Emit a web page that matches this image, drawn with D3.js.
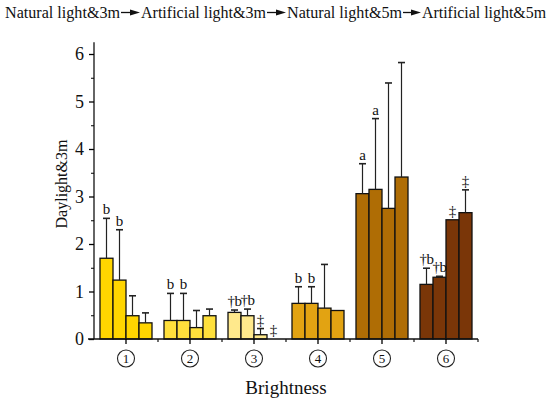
<!DOCTYPE html>
<html>
<head>
<meta charset="utf-8">
<script src="https://d3js.org/d3.v7.min.js"></script>
<style>
  body { margin: 0; background: #fff; }
</style>
</head>
<body>
<svg width="550" height="405"></svg>
<script>
// data
const groups = ['1', '2', '3', '4', '5', '6'];
const series = ['s1', 's2', 's3', 's4'];
const means = [
  [1.70, 1.24, 0.49, 0.34],
  [0.39, 0.39, 0.24, 0.49],
  [0.56, 0.49, 0.09, 0.00],
  [0.75, 0.75, 0.65, 0.60],
  [3.06, 3.15, 2.75, 3.41],
  [1.15, 1.30, 2.51, 2.66]
];
const errors = [
  [0.84, 1.06, 0.42, 0.21],
  [0.57, 0.57, 0.36, 0.14],
  [0.05, 0.14, 0.13, 0.00],
  [0.35, 0.35, 0.92, 0.00],
  [0.63, 1.49, 2.64, 2.41],
  [0.34, 0.02, 0.00, 0.48]
];
const marks = [
  ['b', 'b', '', ''],
  ['b', 'b', '', ''],
  ['†b', '†b', '‡', '‡'],
  ['b', 'b', '', ''],
  ['a', 'a', '', ''],
  ['†b', '†b', '‡', '‡']
];
const groupColors = ['#FFD500', '#FFE03C', '#FFE98C', '#E2A312', '#AF6D05', '#7A3608'];
const yTicks = [0, 1, 2, 3, 4, 5, 6];
const steps = ['Natural light&3m', 'Artificial light&3m', 'Natural light&5m', 'Artificial light&5m'];

const SERIF = '"Liberation Serif", "Times New Roman", "DejaVu Serif", serif';

const svg = d3.select('svg').style('font-family', SERIF);

const x0 = d3.scaleBand().domain(groups).range([94, 478])
  .paddingInner(0.1875).paddingOuter(0.09375);
const x1 = d3.scaleBand().domain(series).range([0, x0.bandwidth()]);
const y = d3.scaleLinear().domain([0, 6]).range([339, 54]);

// flatten for drawing
const rows = [];
groups.forEach((g, i) => series.forEach((s, j) => {
  rows.push({g: g, gi: i, s: s, v: means[i][j], e: errors[i][j], m: marks[i][j]});
}));

// bars
svg.append('g').selectAll('rect')
  .data(rows)
  .join('rect')
  .attr('x', d => x0(d.g) + x1(d.s))
  .attr('y', d => y(d.v))
  .attr('width', x1.bandwidth())
  .attr('height', d => y(0) - y(d.v))
  .attr('fill', d => groupColors[d.gi])
  .attr('stroke', '#111')
  .attr('stroke-width', 1.3);

// error bars (upper only)
const eb = svg.append('g').attr('stroke', '#222').attr('stroke-width', 1.2);
rows.filter(d => d.e > 0).forEach(d => {
  const bx = x0(d.g) + x1(d.s) + x1.bandwidth() / 2;
  eb.append('line').attr('x1', bx).attr('x2', bx).attr('y1', y(d.v)).attr('y2', y(d.v + d.e));
  eb.append('line').attr('x1', bx - 3.5).attr('x2', bx + 3.5).attr('y1', y(d.v + d.e)).attr('y2', y(d.v + d.e))
    .attr('stroke-width', 1.6);
});

// significance letters
svg.append('g').selectAll('text')
  .data(rows.filter(d => d.m))
  .join('text')
  .attr('x', d => x0(d.g) + x1(d.s) + x1.bandwidth() / 2)
  .attr('y', d => y(d.v + d.e) - 4)
  .attr('text-anchor', 'middle')
  .attr('font-size', 15)
  .attr('letter-spacing', d => d.m.length > 1 ? -0.6 : 0)
  .style('font-family', SERIF)
  .attr('fill', '#111')
  .text(d => d.m);

// y axis
const yAxis = svg.append('g').attr('transform', 'translate(94,0)')
  .call(d3.axisLeft(y).tickValues(yTicks).tickSize(5).tickPadding(5).tickFormat(d3.format('d')));
yAxis.attr('font-family', null);
yAxis.select('.domain').attr('d', 'M0,' + y(6.25) + 'V' + y(0)).attr('stroke', '#111').attr('stroke-width', 1.3);
yAxis.selectAll('.tick text').attr('font-size', 18).style('font-family', SERIF).attr('fill', '#111');
yAxis.selectAll('.tick line').attr('stroke-width', 1.3);
svg.append('g').attr('transform', 'translate(94,0)')
  .call(d3.axisLeft(y).tickValues(d3.range(0.5, 6.5, 1)).tickSize(3).tickFormat(''))
  .call(g => g.select('.domain').remove());

// x axis
const xAxis = svg.append('g').attr('transform', 'translate(0,' + y(0) + ')')
  .call(d3.axisBottom(x0).tickSize(5).tickSizeOuter(0).tickFormat(''));
xAxis.select('.domain').attr('d', 'M88,0H478').attr('stroke', '#111').attr('stroke-width', 1.3);
xAxis.selectAll('.tick line').attr('stroke-width', 1.3);
const bounds = groups.map(g => x0(g) + x0.bandwidth() + x0.step() * x0.paddingInner() / 2);
xAxis.selectAll('line.minor').data(bounds).join('line')
  .attr('class', 'minor')
  .attr('x1', d => d).attr('x2', d => d).attr('y1', 0).attr('y2', 3)
  .attr('stroke', '#111').attr('stroke-width', 1.2);

const lab = svg.append('g').selectAll('g')
  .data(groups)
  .join('g')
  .attr('transform', d => 'translate(' + (x0(d) + x0.bandwidth() / 2) + ',358.5)');
lab.append('circle').attr('r', 8.5).attr('fill', 'none').attr('stroke', '#222').attr('stroke-width', 1.1);
lab.append('text').attr('text-anchor', 'middle').attr('dy', 4.6).attr('font-size', 13)
  .style('font-family', SERIF).attr('fill', '#111').text(d => d);

// axis titles
svg.append('text')
  .attr('x', 286).attr('y', 394)
  .attr('text-anchor', 'middle')
  .attr('font-size', 19)
  .style('font-family', SERIF)
  .attr('fill', '#111')
  .text('Brightness');
svg.append('text')
  .attr('transform', 'translate(67,184) rotate(-90)')
  .attr('text-anchor', 'middle')
  .attr('font-size', 16)
  .style('font-family', SERIF)
  .attr('fill', '#111')
  .text('Daylight&3m');

// top sequence with arrows, spread across the width like the original
const seqStart = [5, 141, 287, 422];
const seqWidth = [115, 125, 115, 124];
const seq = svg.append('g');
steps.forEach((s, i) => {
  seq.append('text').attr('x', seqStart[i]).attr('y', 18).attr('font-size', 16)
    .attr('textLength', seqWidth[i]).attr('lengthAdjust', 'spacingAndGlyphs')
    .style('font-family', SERIF).attr('fill', '#111').text(s);
  if (i < steps.length - 1) {
    const a = seqStart[i] + seqWidth[i];
    const b = seqStart[i + 1];
    seq.append('line').attr('x1', a + 1).attr('x2', b - 7).attr('y1', 12.5).attr('y2', 12.5)
      .attr('stroke', '#111').attr('stroke-width', 1.3);
    seq.append('path').attr('d', 'M' + (b - 11) + ',9.5L' + (b - 1) + ',12.5L' + (b - 11) + ',15.5Z').attr('fill', '#111');
  }
});
</script>
</body>
</html>
